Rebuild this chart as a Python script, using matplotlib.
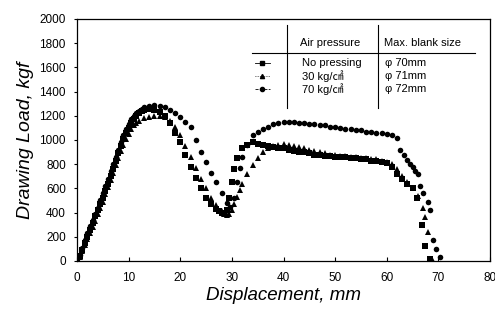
import matplotlib
matplotlib.use('Agg')
import matplotlib.pyplot as plt
import numpy as np

plt.rcParams['font.family'] = ['Liberation Sans', 'Noto Sans CJK KR', 'DejaVu Sans']

# displacement (mm) / drawing load (kgf)
x_none = [0, 0.5, 1, 1.5, 2, 2.5, 3, 3.5, 4, 4.5, 5, 5.5, 6, 6.5, 7, 7.5, 8, 8.5, 9, 9.5,
          10, 10.5, 11, 11.5, 12, 12.5, 13, 13.5, 14, 14.5, 15, 16, 17, 18, 19, 20, 21, 22,
          23, 24, 25, 26, 27, 27.5, 28, 28.5, 29, 29.5, 30, 30.5, 31, 32, 33, 34, 35, 36, 37,
          38, 39, 40, 41, 42, 43, 44, 45, 46, 47, 48, 49, 50, 51, 52, 53, 54, 55, 56, 57, 58,
          59, 60, 61, 62, 63, 64, 65, 65.8, 66.8, 67.5, 68.4]
y_none = [0, 40, 90, 150, 200, 260, 310, 370, 420, 470, 520, 580, 640, 700, 760, 830, 890, 950, 1010, 1060,
          1100, 1140, 1170, 1200, 1220, 1240, 1250, 1255, 1260, 1255, 1250, 1230, 1200, 1140, 1060, 980, 880, 780,
          690, 600, 520, 470, 430, 410, 400, 400, 420, 520, 650, 760, 850, 930, 960, 980, 970, 960, 950,
          940, 930, 930, 920, 910, 900, 900, 890, 880, 880, 870, 870, 860, 860, 860, 850, 850, 840, 840, 830, 830,
          820, 810, 780, 720, 680, 640, 600, 520, 300, 120, 20]

x_30 = [0, 0.5, 1, 1.5, 2, 2.5, 3, 3.5, 4, 4.5, 5, 5.5, 6, 6.5, 7, 7.5, 8, 8.5, 9, 9.5,
        10, 10.5, 11, 11.5, 12, 13, 14, 15, 16, 17, 18, 19, 20, 21, 22, 23, 24, 25, 26, 27,
        28, 28.5, 29, 29.5, 30, 30.5, 31, 31.5, 32, 33, 34, 35, 36, 37, 38, 39, 40, 41, 42,
        43, 44, 45, 46, 47, 48, 49, 50, 51, 52, 53, 54, 55, 56, 57, 58, 59, 60, 61, 62,
        63, 64, 65, 66, 67, 67.4, 68, 68.7]
y_30 = [0, 30, 80, 130, 180, 230, 280, 330, 390, 440, 490, 550, 610, 670, 730, 790, 850, 910, 960, 1010,
        1050, 1090, 1120, 1140, 1160, 1180, 1190, 1200, 1200, 1190, 1160, 1110, 1040, 950, 860, 770, 680, 600, 520, 460,
        410, 390, 380, 390, 420, 470, 530, 590, 640, 720, 790, 850, 900, 930, 950, 960, 970, 960, 950,
        940, 930, 920, 910, 900, 890, 880, 880, 870, 870, 860, 860, 850, 850, 840, 840, 830, 820, 800, 760,
        700, 650, 600, 540, 440, 360, 240, 20]

x_70 = [0, 0.5, 1, 1.5, 2, 2.5, 3, 3.5, 4, 4.5, 5, 5.5, 6, 6.5, 7, 7.5, 8, 8.5, 9, 9.5,
        10, 10.5, 11, 11.5, 12, 12.5, 13, 14, 15, 16, 17, 18, 19, 20, 21, 22, 23, 24, 25, 26,
        27, 28, 29, 29.6, 30.5, 31, 31.6, 32, 33, 34, 35, 36, 37, 38, 39, 40, 41, 42, 43,
        44, 45, 46, 47, 48, 49, 50, 51, 52, 53, 54, 55, 56, 57, 58, 59, 60, 61, 62, 62.6,
        63.3, 63.9, 64.5, 65.1, 65.5, 66, 66.5, 67, 68, 68.4, 69, 69.5, 70.3]
y_70 = [0, 50, 110, 170, 230, 290, 340, 390, 440, 500, 560, 620, 680, 740, 800, 860, 920, 980, 1040, 1090,
        1130, 1170, 1200, 1220, 1240, 1260, 1270, 1280, 1290, 1285, 1270, 1250, 1220, 1190, 1150, 1110, 1000, 900, 820, 730,
        650, 560, 480, 446, 520, 650, 770, 860, 960, 1040, 1070, 1090, 1110, 1130, 1140, 1150, 1150, 1145, 1140,
        1140, 1130, 1130, 1120, 1120, 1110, 1110, 1100, 1090, 1090, 1080, 1080, 1070, 1070, 1060, 1060, 1050, 1040, 1020, 917,
        880, 835, 800, 780, 740, 720, 620, 560, 488, 420, 174, 100, 33]

series = [
    (x_none, y_none, 's', 'No pressing', '\u03c6 70mm', '-'),
    (x_30, y_30, '^', '30 kg/\u33a0', '\u03c6 71mm', ':'),
    (x_70, y_70, 'o', '70 kg/\u33a0', '\u03c6 72mm', '--'),
]

xticks = [0, 10, 20, 30, 40, 50, 60, 70, 80]
yticks = [0, 200, 400, 600, 800, 1000, 1200, 1400, 1600, 1800, 2000]

fig = plt.figure(figsize=(4.95, 3.14), dpi=100)
ax = fig.add_axes([0.1556, 0.1688, 0.8343, 0.7707])

for xs, ys, mk, lab, size, ls in series:
    ax.plot(xs, ys, linestyle='none', marker=mk, markersize=4, color='black',
            markeredgewidth=0)

ax.set_xlim(0, 80)
ax.set_ylim(0, 2000)
ax.set_xticks(xticks)
ax.set_yticks(yticks)
ax.tick_params(axis='x', direction='in', length=3, labelsize=8.5, pad=8)
ax.tick_params(axis='y', direction='out', length=2, labelsize=8.5, pad=6)
for sp in ax.spines.values():
    sp.set_linewidth(0.9)

ax.set_xlabel('Displacement, mm', fontsize=13.5, style='italic', labelpad=2)
ax.set_ylabel('Drawing Load, kgf', fontsize=14, style='italic', labelpad=4)

# table-style legend
tr = ax.transAxes
ax.plot([0.508, 0.508], [0.632, 0.975], color='black', lw=0.8, transform=tr)
ax.plot([0.729, 0.729], [0.632, 0.975], color='black', lw=0.8, transform=tr)
ax.plot([0.424, 0.964], [0.860, 0.860], color='black', lw=0.8, transform=tr)
ax.text(0.540, 0.901, 'Air pressure', fontsize=8, transform=tr, va='center')
ax.text(0.743, 0.901, 'Max. blank size', fontsize=8, transform=tr, va='center')
rows_y = [0.818, 0.764, 0.712]
for (xs, ys, mk, lab, size, ls), ry in zip(series, rows_y):
    ax.plot([0.430, 0.468], [ry, ry], color='black', lw=0.6, linestyle=ls, transform=tr)
    ax.plot([0.449], [ry], marker=mk, markersize=3, color='black', transform=tr)
    ax.text(0.545, ry, lab, fontsize=8, transform=tr, va='center')
    ax.text(0.745, ry, size, fontsize=8, transform=tr, va='center')

fig.savefig('out.png', dpi=100)
